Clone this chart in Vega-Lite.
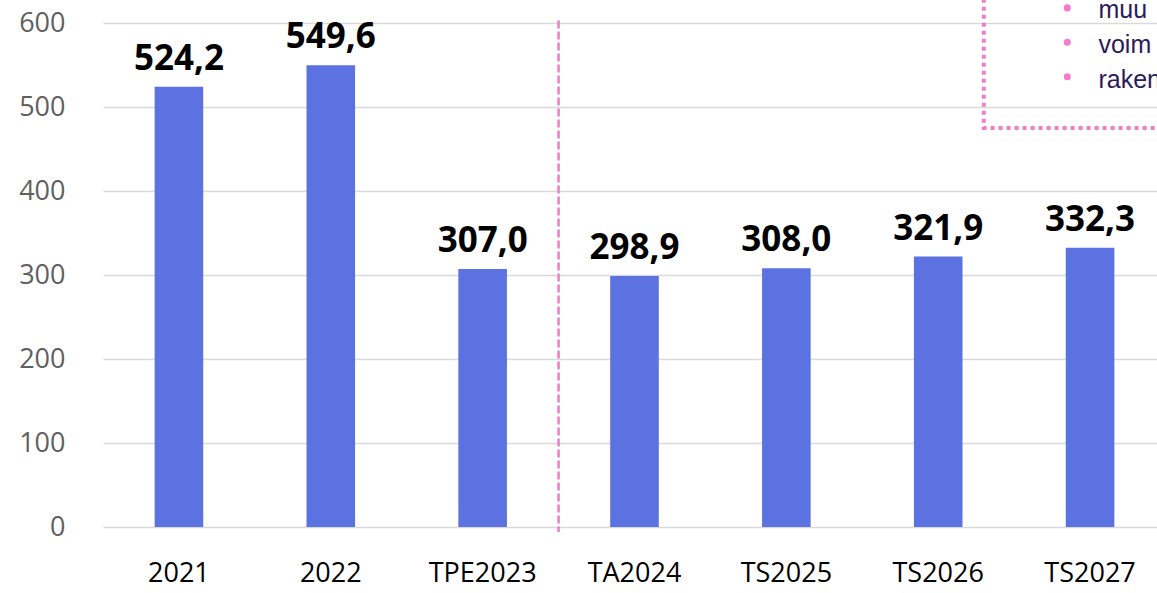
{
  "$schema": "https://vega.github.io/schema/vega-lite/v6.json",
  "autosize": "none",
  "width": 1063,
  "height": 504,
  "padding": {"left": 103, "top": 23, "right": 0, "bottom": 66},
  "background": "white",
  "config": {"view": {"stroke": null}, "font": "Open Sans"},
  "datasets": {
    "bars": [
      {"cat": "2021", "value": 524.2, "label": "524,2"},
      {"cat": "2022", "value": 549.6, "label": "549,6"},
      {"cat": "TPE2023", "value": 307.0, "label": "307,0"},
      {"cat": "TA2024", "value": 298.9, "label": "298,9"},
      {"cat": "TS2025", "value": 308.0, "label": "308,0"},
      {"cat": "TS2026", "value": 321.9, "label": "321,9"},
      {"cat": "TS2027", "value": 332.3, "label": "332,3"}
    ],
    "divider": [{"pos": 3, "y1": 603, "y2": -6}],
    "box": [{"x1": 5.8, "x2": 7.8, "y1": 475, "y2": 660}],
    "bullets": [
      {"text": "muu", "bx": 6.35, "by": 618, "tx": 6.555, "ty": 606},
      {"text": "voim", "bx": 6.35, "by": 577, "tx": 6.555, "ty": 564},
      {"text": "raken", "bx": 6.35, "by": 536, "tx": 6.555, "ty": 522.6}
    ]
  },
  "layer": [
    {
      "data": {"name": "bars"},
      "encoding": {
        "x": {
          "field": "cat", "type": "nominal", "sort": null,
          "scale": {"paddingInner": 0.68, "paddingOuter": 0.34},
          "axis": {"title": null, "labelAngle": 0, "domain": false, "ticks": false,
                   "labelFontSize": 27, "labelColor": "#000000", "labelPadding": 33,
                   "labelFont": "Open Sans"}
        },
        "y": {
          "field": "value", "type": "quantitative",
          "scale": {"domain": [0, 600], "nice": false},
          "axis": {"title": null, "values": [0, 100, 200, 300, 400, 500, 600],
                   "domain": false, "ticks": false, "labelFontSize": 27,
                   "labelColor": "#606060", "labelPadding": 38,
                   "gridColor": "#d9d9d9", "gridWidth": 1.5, "labelFont": "Open Sans"}
        }
      },
      "layer": [
        {"mark": {"type": "bar", "color": "#5b72e0"}},
        {"mark": {"type": "text", "baseline": "bottom", "dy": -10, "fontSize": 35,
                  "fontWeight": "bold", "color": "#000000", "font": "Open Sans"},
         "encoding": {"text": {"field": "label"}}}
      ]
    },
    {
      "data": {"name": "divider"},
      "mark": {"type": "rule", "color": "#f07ccb", "strokeWidth": 2.5, "strokeDash": [8, 3]},
      "encoding": {
        "x": {"field": "pos", "type": "quantitative", "scale": {"domain": [0, 7], "nice": false, "zero": false}, "axis": null},
        "y": {"field": "y1", "type": "quantitative"},
        "y2": {"field": "y2"}
      }
    },
    {
      "data": {"name": "box"},
      "mark": {"type": "rect", "fill": null, "stroke": "#f07ccb", "strokeWidth": 4, "strokeDash": [4, 4]},
      "encoding": {
        "x": {"field": "x1", "type": "quantitative", "scale": {"domain": [0, 7], "nice": false, "zero": false}, "axis": null},
        "x2": {"field": "x2"},
        "y": {"field": "y1", "type": "quantitative"},
        "y2": {"field": "y2"}
      }
    },
    {
      "data": {"name": "bullets"},
      "mark": {"type": "point", "filled": true, "shape": "circle", "size": 50, "color": "#f07ccb", "opacity": 1},
      "encoding": {
        "x": {"field": "bx", "type": "quantitative", "scale": {"domain": [0, 7], "nice": false, "zero": false}, "axis": null},
        "y": {"field": "by", "type": "quantitative"}
      }
    },
    {
      "data": {"name": "bullets"},
      "mark": {"type": "text", "align": "left", "baseline": "alphabetic", "fontSize": 25, "color": "#2b1b5c", "font": "Liberation Sans"},
      "encoding": {
        "x": {"field": "tx", "type": "quantitative", "scale": {"domain": [0, 7], "nice": false, "zero": false}, "axis": null},
        "y": {"field": "ty", "type": "quantitative"},
        "text": {"field": "text"}
      }
    }
  ],
  "resolve": {"scale": {"x": "independent"}}
}
